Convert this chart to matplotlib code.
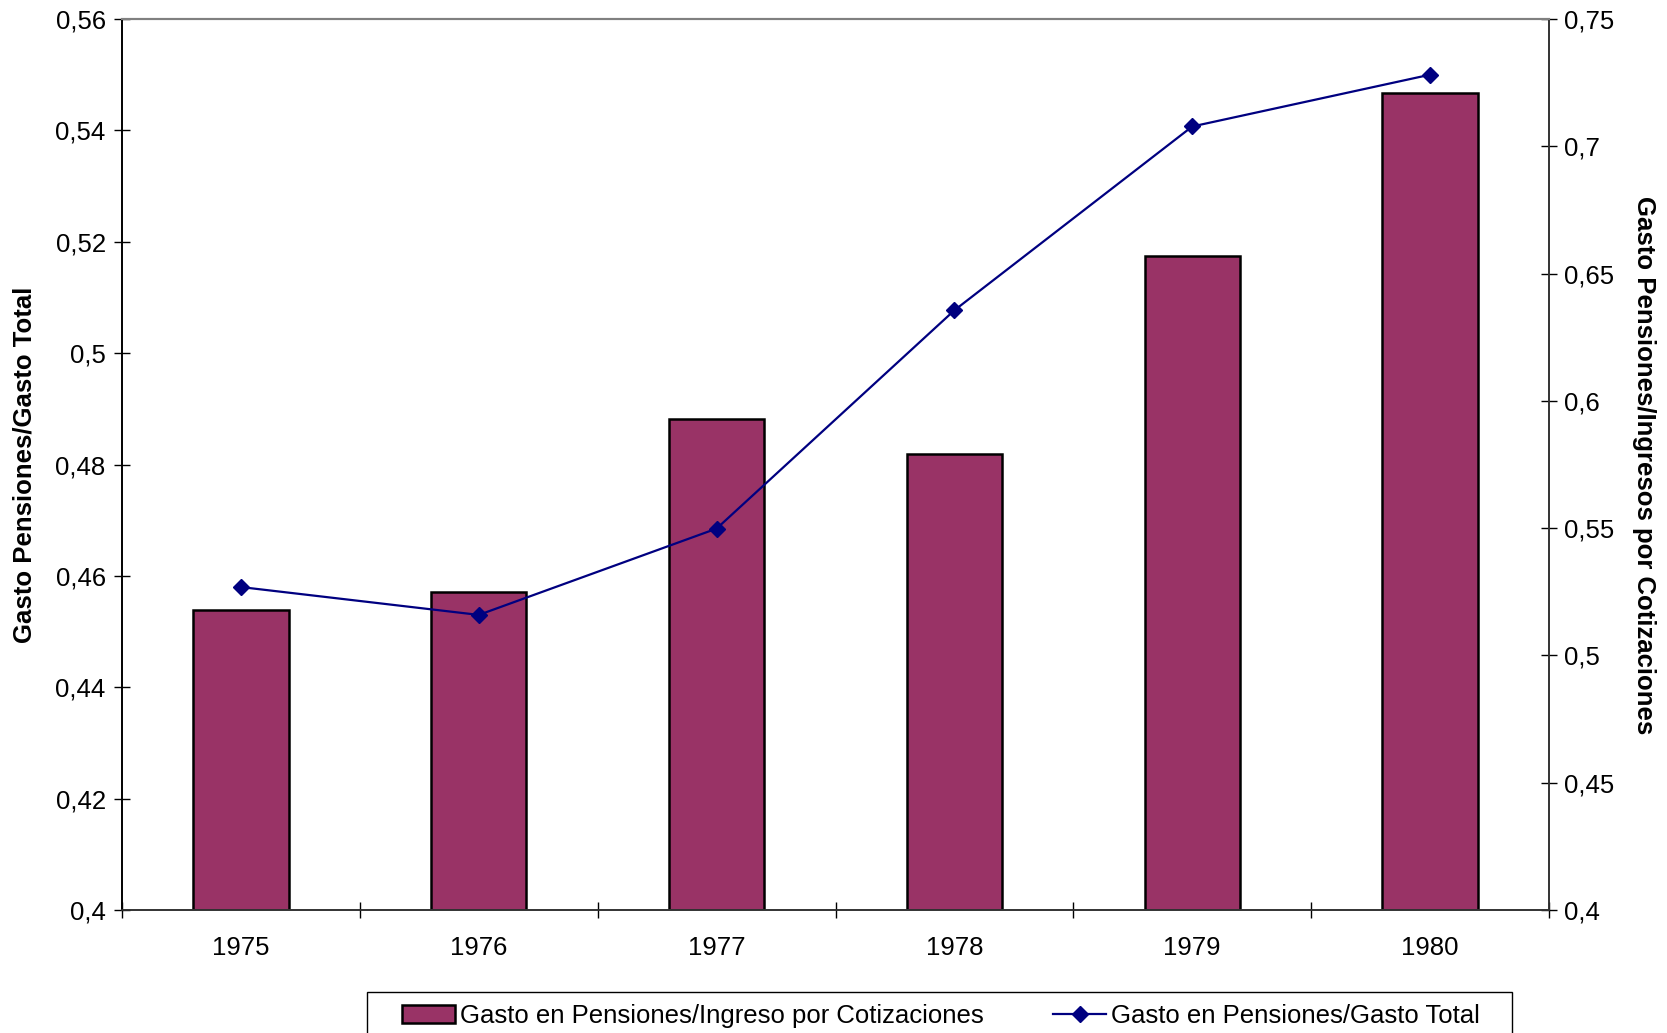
import matplotlib
matplotlib.use("Agg")
import matplotlib.pyplot as plt
from matplotlib.patches import Rectangle
import numpy as np

plt.rcParams['font.family'] = ['Liberation Sans', 'DejaVu Sans']

years = ['1975', '1976', '1977', '1978', '1979', '1980']
ratio_ingreso = [0.518, 0.525, 0.593, 0.579, 0.657, 0.721]   # bars, right axis
ratio_gasto = [0.458, 0.453, 0.4685, 0.5077, 0.5407, 0.550]  # line, left axis

left_ticks = [0.40, 0.42, 0.44, 0.46, 0.48, 0.50, 0.52, 0.54, 0.56]
left_labels = ['0,4', '0,42', '0,44', '0,46', '0,48', '0,5', '0,52', '0,54', '0,56']
right_ticks = [0.40, 0.45, 0.50, 0.55, 0.60, 0.65, 0.70, 0.75]
right_labels = ['0,4', '0,45', '0,5', '0,55', '0,6', '0,65', '0,7', '0,75']

bar_label = 'Gasto en Pensiones/Ingreso por Cotizaciones'
line_label = 'Gasto en Pensiones/Gasto Total'

FS = 18.5

fig = plt.figure(figsize=(16.67, 10.33), dpi=100)
ax = fig.add_axes([0.0732, 0.119, 0.856, 0.8626])
ax2 = ax.twinx()

x = np.arange(len(years))
ymin_r = right_ticks[0]
bars = ax2.bar(x, np.array(ratio_ingreso) - ymin_r, bottom=ymin_r, width=0.40,
               color='#993366', edgecolor='black', linewidth=1.8, label=bar_label)
ax2.set_ylim(right_ticks[0], right_ticks[-1])
ax2.set_yticks(right_ticks)
ax2.set_yticklabels(right_labels, fontsize=FS)

line, = ax.plot(x, ratio_gasto, color='#000080', linewidth=1.6, marker='D',
                markersize=8, label=line_label)
ax.set_ylim(left_ticks[0], left_ticks[-1])
ax.set_yticks(left_ticks)
ax.set_yticklabels(left_labels, fontsize=FS)
ax.set_xlim(-0.5, len(years) - 0.5)

ax.set_zorder(ax2.get_zorder() + 1)
ax.patch.set_visible(False)

# x ticks at category boundaries, labels at centers
ax.set_xticks(np.arange(-0.5, len(years), 1.0))
ax.set_xticklabels([])
ax.set_xticks(x, minor=True)
ax.set_xticklabels(years, minor=True, fontsize=FS)
ax.tick_params(axis='x', which='major', direction='inout', length=11.5, width=1)
ax.tick_params(axis='x', which='minor', length=0, pad=19)
ax.tick_params(axis='y', direction='inout', length=11.5, width=1, pad=6)
ax2.tick_params(axis='y', direction='inout', length=11.5, width=1, pad=5)

for a in (ax, ax2):
    a.spines['top'].set_color('#808080')
    a.spines['top'].set_linewidth(1.5)
    a.spines['bottom'].set_color('#333333')
    a.spines['bottom'].set_linewidth(1.2)
    a.spines['left'].set_color('black')
    a.spines['left'].set_linewidth(1.2)
    a.spines['right'].set_color('#333333')
    a.spines['right'].set_linewidth(1.2)

fig.text(0.0145, 0.55, 'Gasto Pensiones/Gasto Total', rotation=90, fontsize=FS,
         fontweight='bold', ha='center', va='center')
fig.text(0.9865, 0.55, 'Gasto Pensiones/Ingresos por Cotizaciones', rotation=-90,
         fontsize=FS, fontweight='bold', ha='center', va='center')

# legend frame (extends past the bottom edge of the figure)
fig.patches.append(Rectangle((0.2202, -0.05), 0.6868, 0.0897,
                             transform=fig.transFigure, facecolor='white',
                             edgecolor='black', linewidth=1.0, zorder=0))
leg = fig.legend([bars, line], [bar_label, line_label], loc='center',
                 bbox_to_anchor=(0.5644, 0.0165), ncol=2, fontsize=FS,
                 frameon=False, handlelength=2.07, handletextpad=0.2,
                 columnspacing=2.7, borderpad=0, borderaxespad=0)

fig.savefig('out.png', dpi=100)
